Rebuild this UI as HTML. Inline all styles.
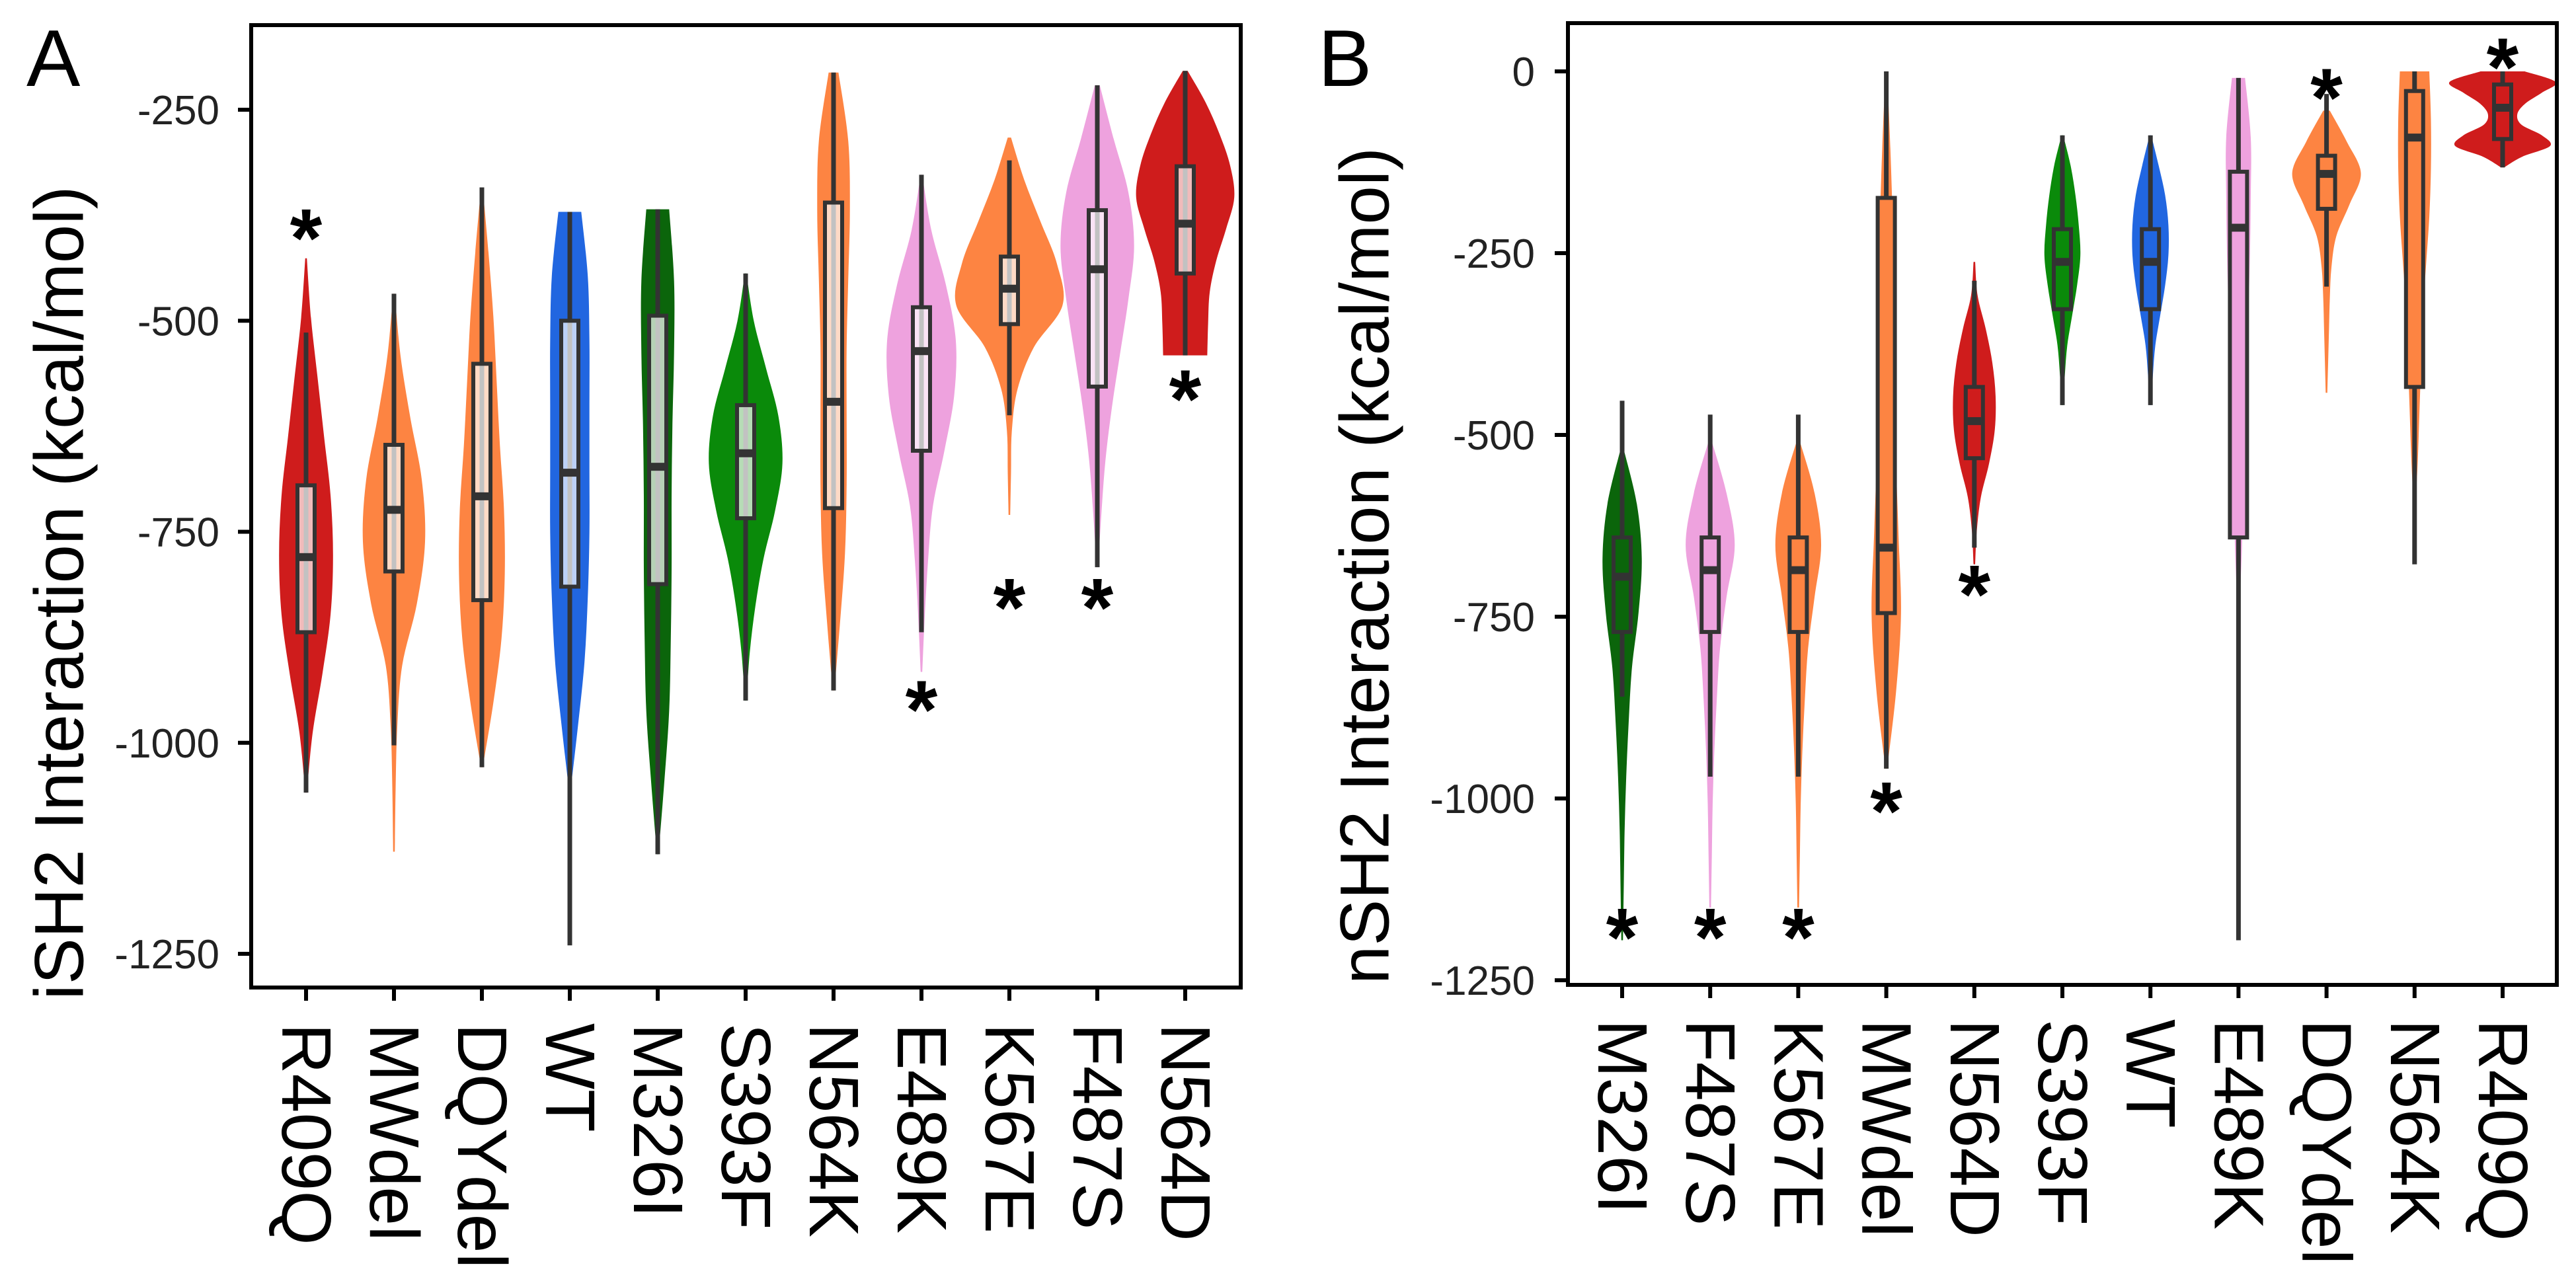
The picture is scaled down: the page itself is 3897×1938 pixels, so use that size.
<!DOCTYPE html>
<html><head><meta charset="utf-8"><style>
html,body{margin:0;padding:0;background:#fff;}
svg{display:block;font-family:"Liberation Sans",Arial,sans-serif;}
</style></head><body>
<svg id="fig" width="3897" height="1938" viewBox="0 0 3897 1938" xmlns="http://www.w3.org/2000/svg">
<rect x="0" y="0" width="3897" height="1938" fill="#fff"/>
<g id="panelA"></g>
<g id="panelB"></g>
</svg>
<script>
// ---- Panel A data ----
const catsA = ["R409Q","MWdel","DQYdel","WT","M326I","S393F","N564K","E489K","K567E","F487S","N564D"];
const colA  = ["#cf1c1c","#fd8442","#fd8442","#2166e0","#0b650b","#0a8a0a","#fd8442","#eea2de","#fd8442","#eea2de","#cf1c1c"];
const vTopA = [-426,-468,-342,-371,-368,-444,-206,-327,-283,-221,-204];
const vBotA = [-1059,-1129,-1029,-1056,-1132,-950,-938,-916,-730,-792,-541];
const densA = [
 [1,6,14,22,30,33,30,20,8,1],
 [1,8,20,34,38,28,10,4,2,1],
 [1,8,14,18,22,27,28,24,14,1],
 [14,22,24,24,24,24,22,18,10,1],
 [14,20,20,18,17,17,16,14,8,1],
 [1,10,25,40,45,36,22,12,5,1],
 [6,18,20,18,16,16,16,14,8,1],
 [1,12,30,42,40,28,14,8,4,1],
 [2,18,38,58,65,30,10,3,2,1],
 [3,20,38,45,38,28,18,10,5,1],
 [3,25,42,55,60,50,38,30,28,27]
];
const q1A  = [-869,-797,-831,-815,-812,-734,-722,-654,-504,-578,-444];
const medA = [-780,-724,-708,-680,-673,-657,-596,-536,-462,-439,-385];
const q3A  = [-695,-647,-551,-500,-494,-600,-360,-484,-424,-369,-317];
const wLoA = [-1059,-1003,-1029,-1240,-1132,-950,-938,-869,-612,-792,-541];
const wHiA = [-514,-468,-342,-371,-368,-444,-206,-327,-310,-221,-204];
const starA = [-381,null,null,null,null,null,null,-940,-819,-819,-572];
const ticksA = [-250,-500,-750,-1000,-1250];

// ---- Panel B data ----
const catsB = ["M326I","F487S","K567E","MWdel","N564D","S393F","WT","E489K","DQYdel","N564K","R409Q"];
const colB  = ["#0b650b","#eea2de","#fd8442","#fd8442","#cf1c1c","#0a8a0a","#2166e0","#eea2de","#fd8442","#fd8442","#cf1c1c"];
const vTopB = [-520,-509,-509,0,-262,-88,-88,-9,-54,0,0];
const vBotB = [-1195,-1150,-1150,-959,-678,-459,-459,-745,-442,-600,-132];
const densB = [
 [2,18,24,20,12,8,5,3,2,1],
 [2,20,30,20,12,8,5,3,2,1],
 [2,20,28,20,12,8,5,3,2,1],
 [1,5,8,10,12,12,15,18,12,1],
 [1,4,14,22,26,25,18,8,3,1],
 [1,10,16,20,22,18,12,6,3,1],
 [1,10,18,22,22,18,12,6,3,1],
 [8,15,15,14,12,10,8,6,4,1],
 [4,25,42,28,12,6,4,3,2,1],
 [18,20,20,18,14,10,8,6,4,1],
 [27,65,48,28,18,23,48,58,24,2]
];
const q1B  = [-771,-771,-771,-745,-532,-327,-327,-641,-189,-434,-93];
const medB = [-695,-686,-686,-655,-481,-262,-262,-215,-141,-91,-50];
const q3B  = [-641,-641,-641,-174,-434,-217,-217,-138,-116,-27,-18];
const wLoB = [-860,-970,-970,-959,-655,-459,-459,-1195,-296,-678,-132];
const wHiB = [-453,-472,-472,0,-288,-88,-88,-9,-31,0,0];
const starB = [-1167,-1167,-1167,-993,-695,null,null,null,-12,null,30];
const ticksB = [0,-250,-500,-750,-1000,-1250];

const NS = "http://www.w3.org/2000/svg";
function mk(parent, tag, attrs, text){
  const e = document.createElementNS(NS, tag);
  for (const k in attrs) e.setAttribute(k, attrs[k]);
  if (text !== undefined) e.textContent = text;
  parent.appendChild(e);
  return e;
}

function drawPanel(g, cfg){
  const {cats, col, vTop, vBot, dens, q1, med, q3, wLo, wHi, star, ticks,
    x0, x1, y0, y1, xFirst, xStep, vAt0, vAt1, yPx0, yPx1, boxFill, title, titleX, titleY, letter, letterX, labelY, tickLabelX} = cfg;
  const ys = v => yPx0 + (v - vAt0) * (yPx1 - yPx0) / (vAt1 - vAt0);
  const xs = i => xFirst + i * xStep;

  cats.forEach((c, i) => {
    const cx = xs(i);
    const d = dens[i];
    const n = d.length;
    const pts = d.map((w, k) => ({y: ys(vTop[i] + (vBot[i] - vTop[i]) * k / (n - 1)), w: w * 1.237}));
    let p = `M ${cx} ${pts[0].y} L ${cx + pts[0].w} ${pts[0].y}`;
    for (let k = 0; k < n - 1; k++){
      const a = pts[Math.max(0,k-1)], b = pts[k], c2 = pts[k+1], e = pts[Math.min(n-1,k+2)];
      const c1x = cx + b.w + (c2.w - a.w)/6, c1y = b.y + (c2.y - a.y)/6;
      const c2x = cx + c2.w - (e.w - b.w)/6, c2y = c2.y - (e.y - b.y)/6;
      p += ` C ${c1x} ${c1y} ${c2x} ${c2y} ${cx + c2.w} ${c2.y}`;
    }
    p += ` L ${cx - pts[n-1].w} ${pts[n-1].y}`;
    for (let k = n - 1; k > 0; k--){
      const a = pts[Math.min(n-1,k+1)], b = pts[k], c2 = pts[k-1], e = pts[Math.max(0,k-2)];
      const c1x = cx - b.w - (c2.w - a.w)/6, c1y = b.y + (c2.y - a.y)/6;
      const c2x = cx - c2.w + (e.w - b.w)/6, c2y = c2.y - (e.y - b.y)/6;
      p += ` C ${c1x} ${c1y} ${c2x} ${c2y} ${cx - c2.w} ${c2.y}`;
    }
    p += " Z";
    const v = mk(g, "path", {d: p, fill: col[i]});
    
    

    const wl = mk(g, "line", {x1: cx, x2: cx, y1: ys(wHi[i]), y2: ys(wLo[i]), stroke: "#333", "stroke-width": 7});
    
    

    const bw = 13;
    const bx = mk(g, "rect", {x: cx - bw, y: ys(q3[i]), width: 2*bw, height: ys(q1[i]) - ys(q3[i]),
      fill: boxFill ? boxFill : col[i], stroke: "#333", "stroke-width": 6});
    
    

    const md = mk(g, "rect", {x: cx - bw, y: ys(med[i]) - 6, width: 2*bw, height: 12, fill: "#333"});
    
    

    if (star[i] !== null){
      const s = mk(g, "text", {x: cx, y: ys(star[i]) + 70, "text-anchor": "middle", "font-size": 125, "font-weight": "bold", fill: "#000"}, "*");
      
      
    }

    const tk = mk(g, "line", {x1: cx, x2: cx, y1: y1, y2: y1 + 20, stroke: "#000", "stroke-width": 6});
    
    
    const lb = mk(g, "text", {x: cx, y: labelY, "font-size": 106, fill: "#000", "dominant-baseline": "central",
      transform: `rotate(90 ${cx} ${labelY})`}, c);
    
    
  });

  const fr = mk(g, "rect", {x: x0, y: y0, width: x1 - x0, height: y1 - y0, fill: "none", stroke: "#000", "stroke-width": 6});
  
  

  ticks.forEach(t => {
    const y = ys(t);
    const tl = mk(g, "line", {x1: x0 - 20, x2: x0, y1: y, y2: y, stroke: "#000", "stroke-width": 6});
    
    
    const tt = mk(g, "text", {x: tickLabelX, y: y + 22, "text-anchor": "end", "font-size": 62, fill: "#222"}, String(t));
    
    
  });

  const ti = mk(g, "text", {x: titleX, y: titleY, "text-anchor": "middle", "font-size": 105, fill: "#000",
    "dominant-baseline": "central", transform: `rotate(-90 ${titleX} ${titleY})`}, title);
  
  

  const le = mk(g, "text", {x: letterX, y: 130, "font-size": 122, fill: "#000"}, letter);
  
  
}

drawPanel(document.getElementById("panelA"), {
  cats: catsA, col: colA, vTop: vTopA, vBot: vBotA, dens: densA, q1: q1A, med: medA, q3: q3A,
  wLo: wLoA, wHi: wHiA, star: starA, ticks: ticksA,
  x0: 380, x1: 1877, y0: 38, y1: 1494, xFirst: 463, xStep: 133,
  vAt0: -250, vAt1: -1250, yPx0: 166, yPx1: 1443, boxFill: "rgba(255,255,255,0.7)",
  title: "iSH2 Interaction (kcal/mol)", titleX: 90, titleY: 897, letter: "A", letterX: 40,
  labelY: 1548, tickLabelX: 332
});
drawPanel(document.getElementById("panelB"), {
  cats: catsB, col: colB, vTop: vTopB, vBot: vBotB, dens: densB, q1: q1B, med: medB, q3: q3B,
  wLo: wLoB, wHi: wHiB, star: starB, ticks: ticksB,
  x0: 2372, x1: 3868, y0: 35, y1: 1490, xFirst: 2454, xStep: 133.2,
  vAt0: 0, vAt1: -1250, yPx0: 108, yPx1: 1483, boxFill: null,
  title: "nSH2 Interaction (kcal/mol)", titleX: 2065, titleY: 856, letter: "B", letterX: 1994,
  labelY: 1542, tickLabelX: 2322
});
</script>
</body></html>
